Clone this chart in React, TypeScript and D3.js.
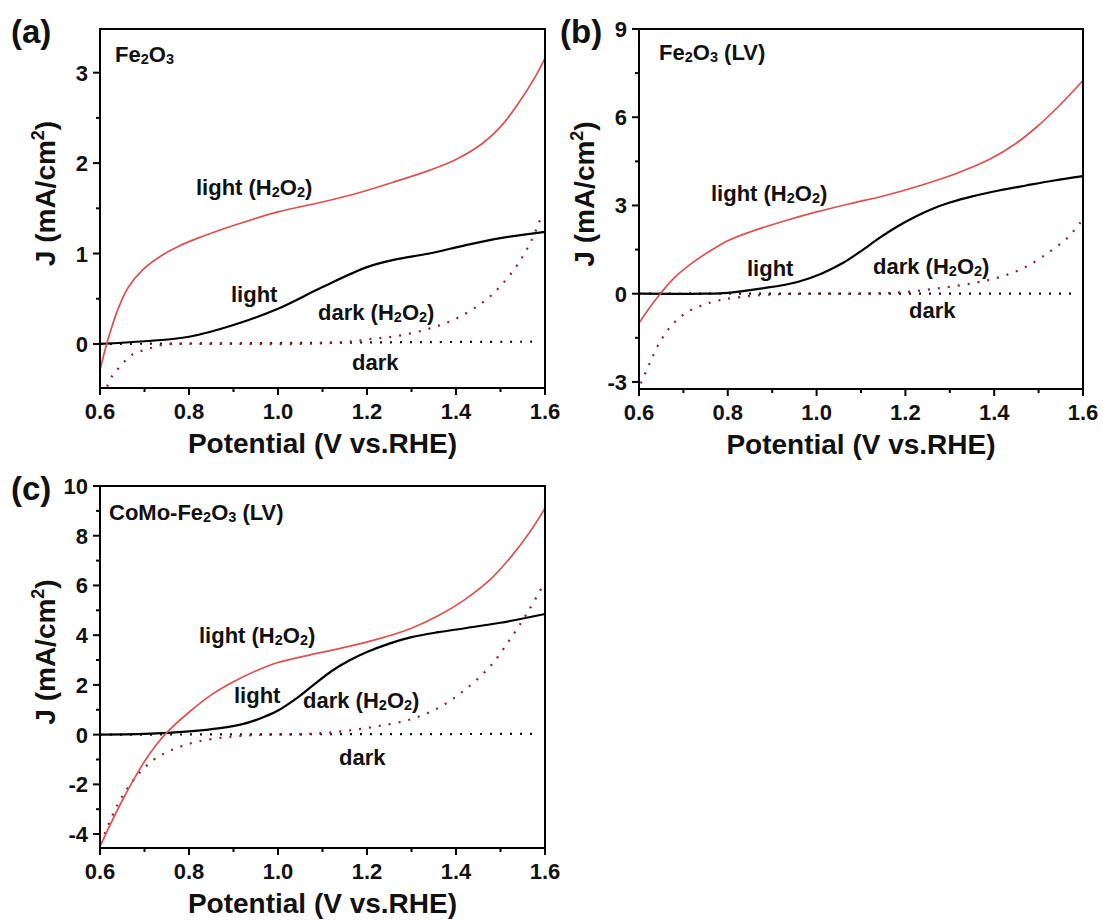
import React from 'react';
import * as d3 from 'd3';

const FONT = "'Liberation Sans', Arial, Helvetica, sans-serif";
const RED = '#dc5050';
const DARKRED = '#8c1c28';

// ---- shared axis ticks ----
const xTicksMajor = [0.6, 0.8, 1.0, 1.2, 1.4, 1.6];
const xTicksMinor = [0.7, 0.9, 1.1, 1.3, 1.5];

// ---- panel (a) Fe2O3 ----
const aYMajor = [0, 1, 2, 3];
const aYMinor = [0.5, 1.5, 2.5];
const aLightH2O2: [number, number][] = [[0.6, -0.29], [0.615, 0], [0.64, 0.38], [0.664, 0.63], [0.696, 0.82], [0.736, 0.97], [0.777, 1.08], [0.82, 1.17], [0.9, 1.31], [1.0, 1.46], [1.1, 1.57], [1.18, 1.67], [1.26, 1.79], [1.34, 1.92], [1.4, 2.04], [1.46, 2.22], [1.5, 2.4], [1.54, 2.66], [1.58, 2.97], [1.6, 3.16]];
const aLight: [number, number][] = [[0.6, 0.0], [0.7, 0.03], [0.8, 0.08], [0.9, 0.21], [1.0, 0.39], [1.1, 0.63], [1.2, 0.85], [1.26, 0.93], [1.34, 1.0], [1.42, 1.09], [1.5, 1.17], [1.6, 1.24]];
const aDarkH2O2: [number, number][] = [[0.616, -0.47], [0.628, -0.35], [0.643, -0.26], [0.658, -0.18], [0.675, -0.11], [0.697, -0.07], [0.718, -0.04], [0.74, -0.01], [0.77, 0], [0.9, 0], [1.05, 0], [1.15, 0.02], [1.21, 0.055], [1.27, 0.09], [1.34, 0.17], [1.4, 0.28], [1.46, 0.46], [1.5, 0.64], [1.54, 0.89], [1.57, 1.15], [1.595, 1.45]];
const aDark: [number, number][] = [[0.6, 0], [1.0, 0.01], [1.3, 0.02], [1.58, 0.025]];

// ---- panel (b) Fe2O3 (LV) ----
const bYMajor = [-3, 0, 3, 6, 9];
const bYMinor = [-1.5, 1.5, 4.5, 7.5];
const bLightH2O2: [number, number][] = [[0.6, -1.0], [0.625, -0.45], [0.648, 0], [0.68, 0.55], [0.72, 1.05], [0.76, 1.45], [0.8, 1.8], [0.85, 2.1], [0.92, 2.44], [1.0, 2.78], [1.075, 3.06], [1.155, 3.34], [1.234, 3.68], [1.313, 4.08], [1.392, 4.59], [1.448, 5.1], [1.495, 5.66], [1.543, 6.34], [1.6, 7.25]];
const bLight: [number, number][] = [[0.6, 0], [0.75, 0], [0.8, 0.03], [0.877, 0.18], [0.957, 0.4], [1.012, 0.69], [1.06, 1.05], [1.1, 1.45], [1.14, 1.88], [1.18, 2.27], [1.22, 2.6], [1.26, 2.88], [1.3, 3.1], [1.353, 3.32], [1.408, 3.5], [1.472, 3.68], [1.535, 3.85], [1.6, 4.0]];
const bDarkH2O2: [number, number][] = [[0.604, -3.05], [0.624, -2.37], [0.648, -1.62], [0.675, -1.05], [0.707, -0.64], [0.743, -0.39], [0.782, -0.22], [0.83, -0.11], [0.893, -0.03], [0.996, 0], [1.115, 0], [1.194, 0.05], [1.273, 0.18], [1.353, 0.36], [1.416, 0.58], [1.472, 0.92], [1.527, 1.45], [1.567, 1.93], [1.598, 2.5]];
const bDark: [number, number][] = [[0.6, 0], [1.58, 0]];

// ---- panel (c) CoMo-Fe2O3 (LV) ----
const cYMajor = [-4, -2, 0, 2, 4, 6, 8, 10];
const cYMinor = [-3, -1, 1, 3, 5, 7, 9];
const cLightH2O2: [number, number][] = [[0.6, -4.5], [0.625, -3.55], [0.65, -2.65], [0.675, -1.83], [0.7, -1.08], [0.725, -0.45], [0.75, 0.08], [0.8, 0.9], [0.85, 1.6], [0.9, 2.13], [0.95, 2.56], [1.0, 2.9], [1.07, 3.2], [1.14, 3.47], [1.22, 3.82], [1.3, 4.28], [1.363, 4.81], [1.419, 5.42], [1.476, 6.22], [1.524, 7.16], [1.564, 8.1], [1.6, 9.1]];
const cLight: [number, number][] = [[0.6, 0], [0.7, 0.03], [0.8, 0.13], [0.87, 0.26], [0.92, 0.42], [0.96, 0.65], [1.0, 0.97], [1.04, 1.44], [1.08, 2.0], [1.12, 2.55], [1.16, 2.98], [1.2, 3.32], [1.25, 3.66], [1.3, 3.92], [1.36, 4.12], [1.42, 4.28], [1.5, 4.5], [1.6, 4.85]];
const cDarkH2O2: [number, number][] = [[0.602, -4.37], [0.64, -2.8], [0.68, -1.72], [0.72, -1.02], [0.761, -0.62], [0.817, -0.29], [0.897, -0.08], [0.978, 0], [1.058, 0.02], [1.138, 0.12], [1.218, 0.32], [1.299, 0.62], [1.363, 1.1], [1.419, 1.79], [1.476, 2.73], [1.524, 3.9], [1.564, 5.01], [1.6, 6.15]];
const cDark: [number, number][] = [[0.6, 0], [1.584, 0.03]];

type Ann = { text: string; x: number; y: number };
type PanelCfg = {
  letter: string;
  left: number; right: number; top: number; bottom: number;
  yDomain: [number, number];
  yMajor: number[]; yMinor: number[];
  lightH2O2: [number, number][]; light: [number, number][];
  darkH2O2: [number, number][]; dark: [number, number][];
  title: Ann;
  anns: Ann[];
};

const panels: PanelCfg[] = [
  {
    letter: '(a)', left: 100, right: 545, top: 29, bottom: 388, yDomain: [-0.487, 3.483],
    yMajor: aYMajor, yMinor: aYMinor, lightH2O2: aLightH2O2, light: aLight, darkH2O2: aDarkH2O2, dark: aDark,
    title: { text: 'Fe_2O_3', x: 115, y: 62 },
    anns: [
      { text: 'light (H_2O_2)', x: 196, y: 195 },
      { text: 'light', x: 231, y: 302 },
      { text: 'dark (H_2O_2)', x: 318, y: 320 },
      { text: 'dark', x: 352, y: 370 },
    ],
  },
  {
    letter: '(b)', left: 639, right: 1083, top: 29, bottom: 389, yDomain: [-3.24, 9],
    yMajor: bYMajor, yMinor: bYMinor, lightH2O2: bLightH2O2, light: bLight, darkH2O2: bDarkH2O2, dark: bDark,
    title: { text: 'Fe_2O_3 (LV)', x: 659, y: 60 },
    anns: [
      { text: 'light (H_2O_2)', x: 711, y: 201 },
      { text: 'light', x: 747, y: 276 },
      { text: 'dark (H_2O_2)', x: 873, y: 274 },
      { text: 'dark', x: 909, y: 318 },
    ],
  },
  {
    letter: '(c)', left: 100, right: 545, top: 486, bottom: 848, yDomain: [-4.56, 10],
    yMajor: cYMajor, yMinor: cYMinor, lightH2O2: cLightH2O2, light: cLight, darkH2O2: cDarkH2O2, dark: cDark,
    title: { text: 'CoMo-Fe_2O_3 (LV)', x: 109, y: 520 },
    anns: [
      { text: 'light (H_2O_2)', x: 199, y: 643 },
      { text: 'light', x: 234, y: 703 },
      { text: 'dark (H_2O_2)', x: 303, y: 708 },
      { text: 'dark', x: 339, y: 765 },
    ],
  },
];

function Rich({ text, x, y, size }: { text: string; x: number; y: number; size: number }) {
  const parts = text.split(/(_\d)/).filter((p) => p.length > 0);
  const out: React.ReactNode[] = [];
  let shifted = false;
  parts.forEach((p, i) => {
    if (p.startsWith('_')) {
      out.push(
        <tspan key={i} fontSize={size * 0.66} dy={shifted ? 0 : 1.5}>{p.slice(1)}</tspan>
      );
      shifted = true;
    } else {
      out.push(
        <tspan key={i} dy={shifted ? -1.5 : 0}>{p}</tspan>
      );
      shifted = false;
    }
  });
  return (
    <text x={x} y={y} fontFamily={FONT} fontWeight="bold" fontSize={size} fill="#111">{out}</text>
  );
}

function Panel({ cfg }: { cfg: PanelCfg }) {
  const x = d3.scaleLinear().domain([0.6, 1.6]).range([cfg.left, cfg.right]);
  const y = d3.scaleLinear().domain(cfg.yDomain).range([cfg.bottom, cfg.top]);
  const line = d3.line<[number, number]>()
    .x((d) => x(d[0]))
    .y((d) => y(d[1]))
    .curve(d3.curveCatmullRom.alpha(0.5));
  const midY = (cfg.top + cfg.bottom) / 2;
  const midX = (cfg.left + cfg.right) / 2;
  const clipId = 'clip' + cfg.letter.replace(/[()]/g, '');
  return (
    <g>
      <defs>
        <clipPath id={clipId}>
          <rect x={cfg.left} y={cfg.top - 2} width={cfg.right - cfg.left + 2} height={cfg.bottom - cfg.top + 2} />
        </clipPath>
      </defs>
      <g clipPath={`url(#${clipId})`} fill="none">
        <path d={line(cfg.dark) || ''} stroke="#111" strokeWidth={2.2} strokeDasharray="2 8" />
        <path d={line(cfg.darkH2O2) || ''} stroke={DARKRED} strokeWidth={2.2} strokeDasharray="2 8" />
        <path d={line(cfg.light) || ''} stroke="#000" strokeWidth={2.2} />
        <path d={line(cfg.lightH2O2) || ''} stroke={RED} strokeWidth={1.7} />
      </g>
      {/* frame */}
      <rect x={cfg.left} y={cfg.top} width={cfg.right - cfg.left} height={cfg.bottom - cfg.top} fill="none" stroke="#000" strokeWidth={2} />
      {/* x ticks */}
      {xTicksMajor.map((t) => (
        <g key={'xM' + t}>
          <line x1={x(t)} x2={x(t)} y1={cfg.bottom} y2={cfg.bottom + 7} stroke="#000" strokeWidth={2} />
          <text x={x(t)} y={cfg.bottom + 31} textAnchor="middle" fontFamily={FONT} fontWeight="bold" fontSize={22} fill="#111">{t.toFixed(1)}</text>
        </g>
      ))}
      {xTicksMinor.map((t) => (
        <line key={'xm' + t} x1={x(t)} x2={x(t)} y1={cfg.bottom} y2={cfg.bottom + 4} stroke="#000" strokeWidth={2} />
      ))}
      {/* y ticks */}
      {cfg.yMajor.map((t) => (
        <g key={'yM' + t}>
          <line x1={cfg.left - 7} x2={cfg.left} y1={y(t)} y2={y(t)} stroke="#000" strokeWidth={2} />
          <text x={cfg.left - 12} y={y(t) + 8} textAnchor="end" fontFamily={FONT} fontWeight="bold" fontSize={22} fill="#111">{String(t)}</text>
        </g>
      ))}
      {cfg.yMinor.map((t) => (
        <line key={'ym' + t} x1={cfg.left - 4} x2={cfg.left} y1={y(t)} y2={y(t)} stroke="#000" strokeWidth={2} />
      ))}
      {/* axis titles */}
      <text x={midX} y={cfg.bottom + 65} textAnchor="middle" fontFamily={FONT} fontWeight="bold" fontSize={28} fill="#111">Potential (V vs.RHE)</text>
      <text transform={`translate(${cfg.left - 45},${midY - 15}) rotate(-90)`} textAnchor="middle" fontFamily={FONT} fontWeight="bold" fontSize={28} fill="#111">
        J (mA/cm<tspan fontSize={18} dy={-11}>2</tspan><tspan dy={11}>)</tspan>
      </text>
      {/* panel letter */}
      <text x={cfg.left === 100 ? 11 : cfg.left - 79} y={cfg.top + 14} fontFamily={FONT} fontWeight="bold" fontSize={33} fill="#111">{cfg.letter}</text>
      <Rich text={cfg.title.text} x={cfg.title.x} y={cfg.title.y} size={22} />
      {cfg.anns.map((a, i) => (
        <Rich key={i} text={a.text} x={a.x} y={a.y} size={22} />
      ))}
    </g>
  );
}

export default function App() {
  return (
    <svg width={1103} height={921} style={{ position: 'absolute', left: 0, top: 0, background: '#fff' }}>
      <rect x={0} y={0} width={1103} height={921} fill="#fff" />
      {panels.map((p) => (
        <Panel key={p.letter} cfg={p} />
      ))}
    </svg>
  );
}
